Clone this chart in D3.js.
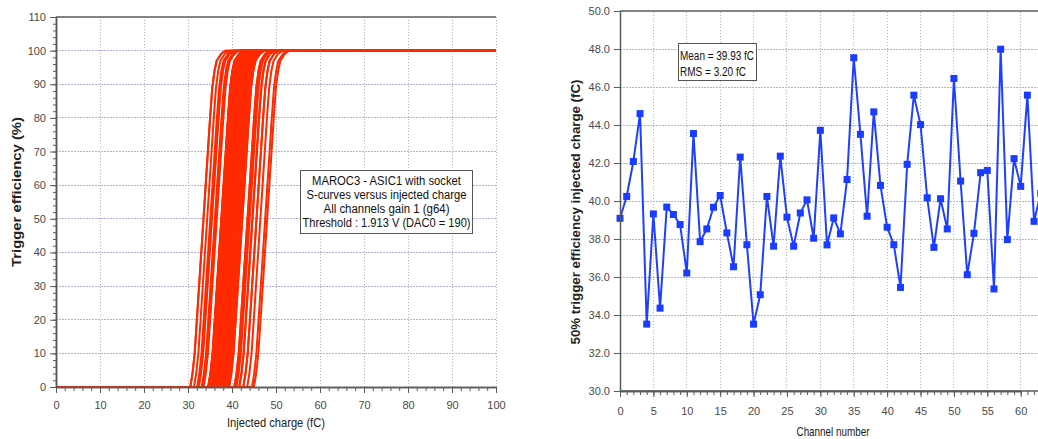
<!DOCTYPE html>
<html>
<head>
<meta charset="utf-8">
<script src="https://cdn.jsdelivr.net/npm/d3@7/dist/d3.min.js"></script>
<style>
  html, body { margin: 0; padding: 0; background: #fff; }
  svg { display: block; font-family: "Liberation Sans", Arial, sans-serif; }
</style>
</head>
<body>
<svg id="chart" width="1038" height="439"></svg>
<script>
// ---- Data ----
// Channel numbers (right chart x)
const channels = d3.range(0, 64);
// 50% trigger efficiency injected charge (fC) per channel
const halfEffCharge = [
  39.09, 40.24, 42.08, 44.60, 33.52, 39.32, 34.36, 39.68, 39.29, 38.76,
  36.21, 43.55, 37.86, 38.53, 39.67, 40.29, 38.32, 36.54, 42.31, 37.70,
  33.52, 35.07, 40.24, 37.62, 42.36, 39.15, 37.62, 39.37, 40.06, 38.04,
  43.72, 37.69, 39.11, 38.27, 41.13, 47.54, 43.51, 39.20, 44.69, 40.82,
  38.62, 37.70, 35.45, 41.93, 45.57, 44.02, 40.17, 37.56, 40.12, 38.53,
  46.45, 41.05, 36.12, 38.30, 41.49, 41.61, 35.37, 47.99, 37.97, 42.23,
  40.77, 45.57, 38.93, 40.40
];
// Common S-curve shape: charge offset from the 50% point (fC) -> efficiency (%)
const sOffsets = [-3.0, -2.5, -2.0, -1.5, -1.0, -0.5, 0.0, 0.5, 1.0, 1.5, 2.0, 2.5, 3.0, 4.0, 5.0];
const sEfficiency = [0, 4, 10, 20, 30, 40, 50, 60, 70, 80, 89, 94, 97, 99, 100];

// Tick labels
const leftXTicks = [0, 10, 20, 30, 40, 50, 60, 70, 80, 90, 100];
const leftYTicks = [0, 10, 20, 30, 40, 50, 60, 70, 80, 90, 100, 110];
const rightXTicks = [0, 5, 10, 15, 20, 25, 30, 35, 40, 45, 50, 55, 60];
const rightYTicks = [30, 32, 34, 36, 38, 40, 42, 44, 46, 48, 50];

// Text
const annotationLines = [
  "MAROC3 - ASIC1 with socket",
  "S-curves versus injected charge",
  "All channels gain 1 (g64)",
  "Threshold : 1.913 V (DAC0 = 190)"
];
const statsLines = ["Mean = 39.93 fC", "RMS = 3.20 fC"];

// ---- Drawing ----
const svg = d3.select("#chart");
const axisColor = "#5a5a5a";
const gridColor = "#a9aef5";
const tickTextColor = "#4a4a4a";

const xL = d3.scaleLinear([0, 100], [56, 496]);
const yL = d3.scaleLinear([0, 110], [387, 17]);
const xR = d3.scaleLinear([0, 60], [620, 1020.7]);
const yR = d3.scaleLinear([30, 50], [391, 11]);

function grid(g, xs, ys, xScale, yScale) {
  g.selectAll("line.vx").data(xs).join("line")
    .attr("x1", d => xScale(d)).attr("x2", d => xScale(d))
    .attr("y1", yScale.range()[0]).attr("y2", yScale.range()[1]);
  g.selectAll("line.hy").data(ys).join("line").attr("class", "hy")
    .attr("x1", xScale.range()[0]).attr("x2", d3.max([xScale.range()[1], 0]))
    .attr("y1", d => yScale(d)).attr("y2", d => yScale(d));
  g.selectAll("line").attr("stroke", gridColor).attr("stroke-width", 1)
    .attr("stroke-dasharray", "1.5,1.5").attr("shape-rendering", "crispEdges");
}

// Left grid
const gL = svg.append("g");
gL.selectAll("line.v").data(leftXTicks.slice(1)).join("line")
  .attr("x1", d => xL(d)).attr("x2", d => xL(d)).attr("y1", yL(0)).attr("y2", yL(110));
gL.selectAll("line.h").data(leftYTicks.slice(1, -1)).join("line").attr("class", "h")
  .attr("x1", xL(0)).attr("x2", xL(100)).attr("y1", d => yL(d)).attr("y2", d => yL(d));
gL.selectAll("line").attr("stroke", gridColor).attr("stroke-width", 1)
  .attr("stroke-dasharray", "1.5,1.5").attr("shape-rendering", "crispEdges");

// Right grid
const gR = svg.append("g");
gR.selectAll("line.v").data(rightXTicks.slice(1)).join("line")
  .attr("x1", d => xR(d)).attr("x2", d => xR(d)).attr("y1", yR(30)).attr("y2", yR(50));
gR.selectAll("line.h").data(rightYTicks.slice(1, -1)).join("line").attr("class", "h")
  .attr("x1", xR(0)).attr("x2", 1038).attr("y1", d => yR(d)).attr("y2", d => yR(d));
gR.selectAll("line").attr("stroke", gridColor).attr("stroke-width", 1)
  .attr("stroke-dasharray", "1.5,1.5").attr("shape-rendering", "crispEdges");

// Left S-curves
const sLine = d3.line().x(d => xL(d[0])).y(d => yL(d[1]));
const curves = halfEffCharge.map(c => {
  const pts = [[0, 0]];
  sOffsets.forEach((o, i) => pts.push([c + o, sEfficiency[i]]));
  pts.push([100, 100]);
  return pts;
});
svg.append("g").selectAll("path").data(curves).join("path")
  .attr("d", sLine).attr("fill", "none").attr("stroke", "#ff2a00")
  .attr("stroke-width", 2).attr("stroke-linejoin", "round");

// Right series
const rPts = channels.map((ch, i) => [ch, halfEffCharge[i]]);
const rLine = d3.line().x(d => xR(d[0])).y(d => yR(d[1]));
svg.append("path").datum(rPts).attr("d", rLine).attr("fill", "none")
  .attr("stroke", "#1f40ff").attr("stroke-width", 2).attr("stroke-linejoin", "round");
svg.append("g").selectAll("rect").data(rPts).join("rect")
  .attr("x", d => xR(d[0]) - 3.5).attr("y", d => yR(d[1]) - 3.5)
  .attr("width", 7).attr("height", 7).attr("fill", "#1a3cff");

// Axes helper
function styleAxis(g) {
  g.selectAll(".domain").attr("stroke", axisColor).attr("stroke-width", 1.5);
  g.selectAll(".tick line").attr("stroke", axisColor).attr("stroke-width", 1);
  g.selectAll(".tick text").attr("fill", tickTextColor)
    .attr("font-size", 11).attr("font-family", "Liberation Sans, Arial, sans-serif");
}

// Left axes
svg.append("g").attr("transform", `translate(0,${yL(0)})`)
  .call(d3.axisBottom(xL).tickValues(d3.range(0, 101, 2)).tickSize(4).tickFormat("").tickSizeOuter(0))
  .call(styleAxis);
svg.append("g").attr("transform", `translate(0,${yL(0)})`)
  .call(d3.axisBottom(xL).tickValues(leftXTicks).tickSize(6).tickPadding(8).tickSizeOuter(0))
  .call(styleAxis);
svg.append("g").attr("transform", `translate(${xL(0)},0)`)
  .call(d3.axisLeft(yL).tickValues(d3.range(0, 111, 2)).tickSize(3).tickFormat("").tickSizeOuter(0))
  .call(styleAxis);
svg.append("g").attr("transform", `translate(${xL(0)},0)`)
  .call(d3.axisLeft(yL).tickValues(leftYTicks).tickSize(6).tickPadding(4).tickSizeOuter(0))
  .call(styleAxis);
svg.append("line").attr("x1", xL(0)).attr("x2", xL(100)).attr("y1", yL(110)).attr("y2", yL(110))
  .attr("stroke", axisColor).attr("stroke-width", 1.5);

// Right axes
svg.append("g").attr("transform", `translate(0,${yR(30)})`)
  .call(d3.axisBottom(xR).tickValues(d3.range(0, 64, 1)).tickSize(4).tickFormat("").tickSizeOuter(0))
  .call(styleAxis);
svg.append("g").attr("transform", `translate(0,${yR(30)})`)
  .call(d3.axisBottom(xR).tickValues(rightXTicks).tickSize(6).tickPadding(10).tickSizeOuter(0))
  .call(styleAxis);
svg.append("line").attr("x1", xR(0)).attr("x2", 1038).attr("y1", yR(30)).attr("y2", yR(30))
  .attr("stroke", axisColor).attr("stroke-width", 1.5);
svg.append("g").attr("transform", `translate(${xR(0)},0)`)
  .call(d3.axisLeft(yR).tickValues(rightYTicks).tickSize(6).tickPadding(4)
    .tickFormat(d3.format(".1f")).tickSizeOuter(0))
  .call(styleAxis);
svg.append("line").attr("x1", xR(0)).attr("x2", 1038).attr("y1", yR(50)).attr("y2", yR(50))
  .attr("stroke", axisColor).attr("stroke-width", 1.5);

// Axis titles
svg.append("text").attr("x", 276).attr("y", 427).attr("text-anchor", "middle")
  .attr("font-size", 13).attr("fill", "#222").attr("textLength", 98).attr("lengthAdjust", "spacingAndGlyphs")
  .text("Injected charge (fC)");
svg.append("text").attr("x", 833).attr("y", 436).attr("text-anchor", "middle")
  .attr("font-size", 13).attr("fill", "#222").attr("textLength", 73).attr("lengthAdjust", "spacingAndGlyphs")
  .text("Channel number");
svg.append("text").attr("transform", "translate(21,192) rotate(-90)").attr("text-anchor", "middle")
  .attr("font-size", 12.5).attr("font-weight", "bold").attr("fill", "#222")
  .attr("textLength", 150).attr("lengthAdjust", "spacingAndGlyphs")
  .text("Trigger efficiency (%)");
svg.append("text").attr("transform", "translate(580,212) rotate(-90)").attr("text-anchor", "middle")
  .attr("font-size", 12.5).attr("font-weight", "bold").attr("fill", "#222")
  .attr("textLength", 265).attr("lengthAdjust", "spacingAndGlyphs")
  .text("50% trigger efficiency injected charge (fC)");

// Left annotation box
svg.append("rect").attr("x", 300.5).attr("y", 170.5).attr("width", 172).attr("height", 63)
  .attr("fill", "#fff").attr("stroke", "#555").attr("stroke-width", 1);
const annLengths = [149, 160, 126, 168];
svg.append("g").selectAll("text").data(annotationLines).join("text")
  .attr("x", 386.5).attr("y", (d, i) => 184.5 + i * 14.3).attr("text-anchor", "middle")
  .attr("font-size", 12.5).attr("fill", "#111")
  .attr("textLength", (d, i) => annLengths[i]).attr("lengthAdjust", "spacingAndGlyphs")
  .text(d => d);

// Right stats box
svg.append("rect").attr("x", 678.5).attr("y", 43.5).attr("width", 78).attr("height", 37)
  .attr("fill", "#fff").attr("stroke", "#555").attr("stroke-width", 1);
const statLengths = [74, 66];
svg.append("g").selectAll("text").data(statsLines).join("text")
  .attr("x", 680).attr("y", (d, i) => 59.5 + i * 16.3)
  .attr("font-size", 12.5).attr("fill", "#111")
  .attr("textLength", (d, i) => statLengths[i]).attr("lengthAdjust", "spacingAndGlyphs")
  .text(d => d);
</script>
</body>
</html>
